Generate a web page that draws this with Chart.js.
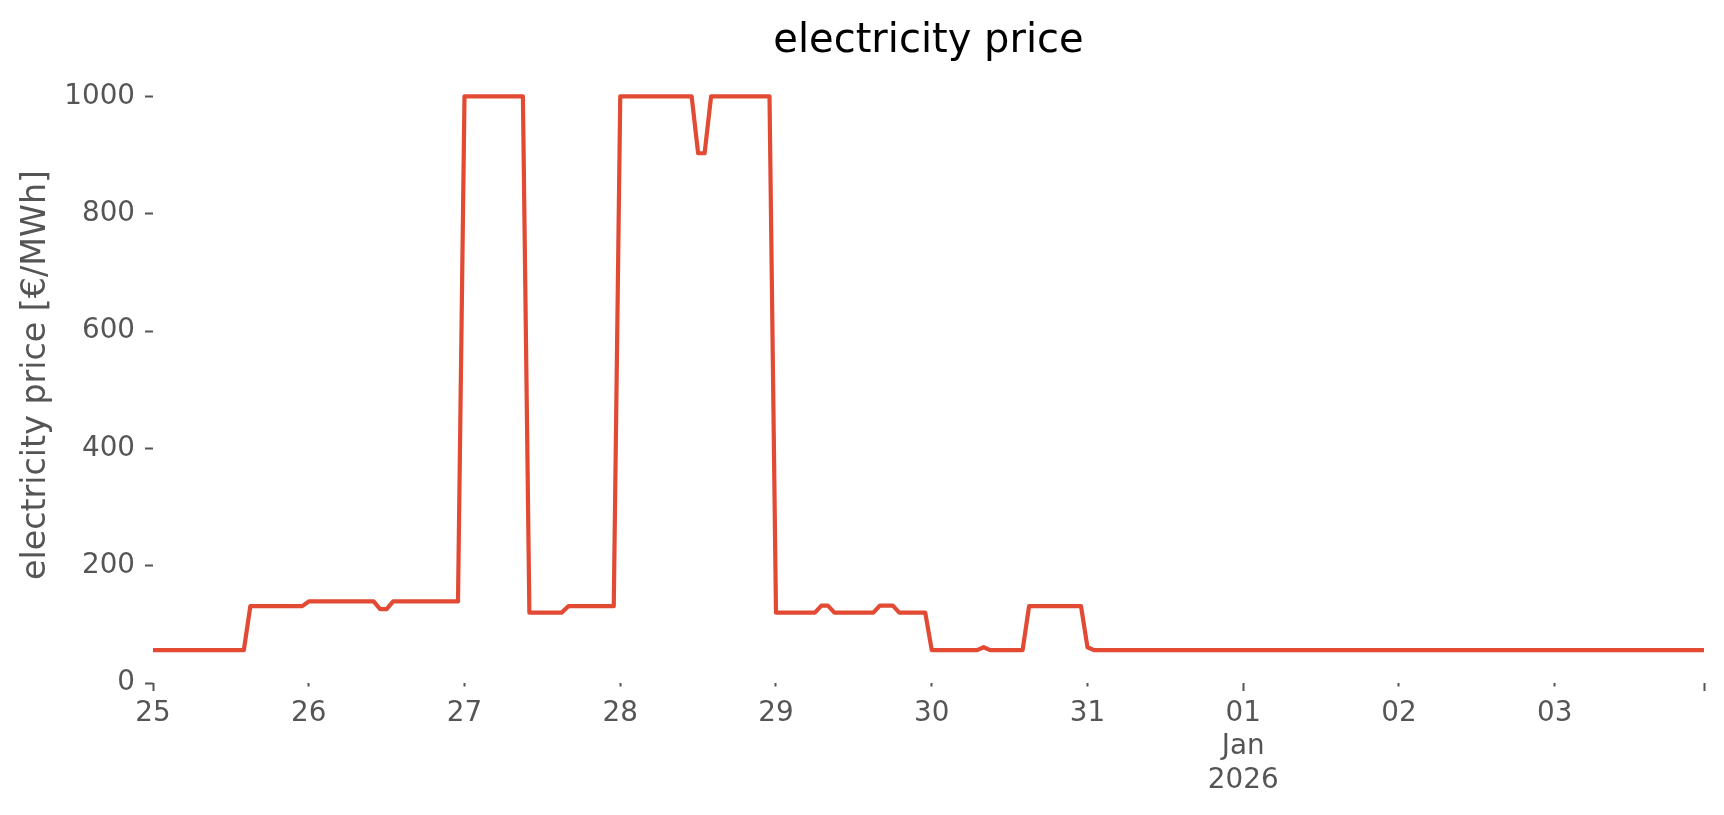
<!DOCTYPE html>
<html><head><meta charset="utf-8">
<script src="https://cdn.jsdelivr.net/npm/chart.js@4/dist/chart.umd.min.js"></script>
<style>html,body{margin:0;padding:0;background:#fff;}#wrap{width:1724px;height:815px;}</style>
</head><body><div id="wrap"><canvas id="c" width="1724" height="815"></canvas></div>
<script>
const chartTitle = 'electricity price';
const yAxisTitle = 'electricity price [€/MWh]';
// hourly samples starting 2025-12-25 00:00
const dayTickLabels = ['25','26','27','28','29','30','31',['01','Jan','2026'],'02','03',''];
const dayTickHours = [0,24,48,72,96,120,144,168,192,216,239];
const majorTickHours = [0,168,239];
const yTicks = [0,200,400,600,800,1000];
const prices = [
  // Dec 25
  56,56,56,56,56,56,56,56,56,56,56,56,56,56,56,131,131,131,131,131,131,131,131,131,
  // Dec 26
  139,139,139,139,139,139,139,139,139,139,139,126,126,139,139,139,139,139,139,139,139,139,139,139,
  // Dec 27
  1000,1000,1000,1000,1000,1000,1000,1000,1000,1000,120,120,120,120,120,120,131,131,131,131,131,131,131,131,
  // Dec 28
  1000,1000,1000,1000,1000,1000,1000,1000,1000,1000,1000,1000,903,903,1000,1000,1000,1000,1000,1000,1000,1000,1000,1000,
  // Dec 29
  120,120,120,120,120,120,120,132,132,120,120,120,120,120,120,120,132,132,132,120,120,120,120,120,
  // Dec 30
  56,56,56,56,56,56,56,56,61,56,56,56,56,56,56,131,131,131,131,131,131,131,131,131,
  // Dec 31
  61,56,56,56,56,56,56,56,56,56,56,56,56,56,56,56,56,56,56,56,56,56,56,56,
  // Jan 01
  56,56,56,56,56,56,56,56,56,56,56,56,56,56,56,56,56,56,56,56,56,56,56,56,
  // Jan 02
  56,56,56,56,56,56,56,56,56,56,56,56,56,56,56,56,56,56,56,56,56,56,56,56,
  // Jan 03
  56,56,56,56,56,56,56,56,56,56,56,56,56,56,56,56,56,56,56,56,56,56,56,56
];
const hours = prices.map((_, i) => i);

const FONT = 'DejaVu Sans';
const GREY = '#555555';

new Chart(document.getElementById('c'), {
  type: 'line',
  data: {
    datasets: [{
      data: hours.map((h, i) => ({x: h, y: prices[i]})),
      borderColor: '#E24A33',
      borderWidth: 4.2,
      pointRadius: 0,
      tension: 0,
      borderJoinStyle: 'round',
      fill: false
    }]
  },
  options: {
    responsive: false,
    devicePixelRatio: 1,
    animation: false,
    layout: { padding: { left: 0, right: 20, top: 0, bottom: 0 } },
    plugins: {
      legend: { display: false },
      tooltip: { enabled: false },
      title: {
        display: true,
        text: chartTitle,
        fullSize: false,
        color: '#000000',
        font: { family: FONT, size: 40, weight: 'normal' },
        padding: { top: 17.5, bottom: 1.5 }
      }
    },
    scales: {
      x: {
        type: 'linear',
        min: hours[0],
        max: hours[hours.length - 1],
        afterBuildTicks: s => { s.ticks = dayTickHours.map(v => ({value: v})); },
        afterFit: s => { s.height = 132; },
        border: { display: false },
        grid: {
          drawOnChartArea: false,
          tickLength: 8,
          tickWidth: 2,
          tickColor: GREY,
          tickBorderDash: ctx => (ctx.tick && majorTickHours.includes(ctx.tick.value)) ? [] : [3.5, 40]
        },
        ticks: {
          autoSkip: false,
          maxRotation: 0,
          minRotation: 0,
          padding: 6,
          color: GREY,
          font: { family: FONT, size: 27.8 },
          callback: (v, i) => dayTickLabels[i]
        }
      },
      y: {
        type: 'linear',
        min: 0,
        max: 1050,
        afterBuildTicks: s => { s.ticks = yTicks.map(v => ({value: v})); },
        afterFit: s => { s.width = 153; },
        border: { display: false },
        grid: {
          drawOnChartArea: false,
          tickLength: 8,
          tickWidth: 2,
          tickColor: GREY
        },
        ticks: {
          padding: 10,
          color: GREY,
          font: { family: FONT, size: 27.8 },
          callback: v => String(v)
        },
        title: {
          display: true,
          text: yAxisTitle,
          color: GREY,
          font: { family: FONT, size: 33.3 },
          padding: { top: 16, bottom: 0 }
        }
      }
    }
  }
});
</script>
</body></html>
